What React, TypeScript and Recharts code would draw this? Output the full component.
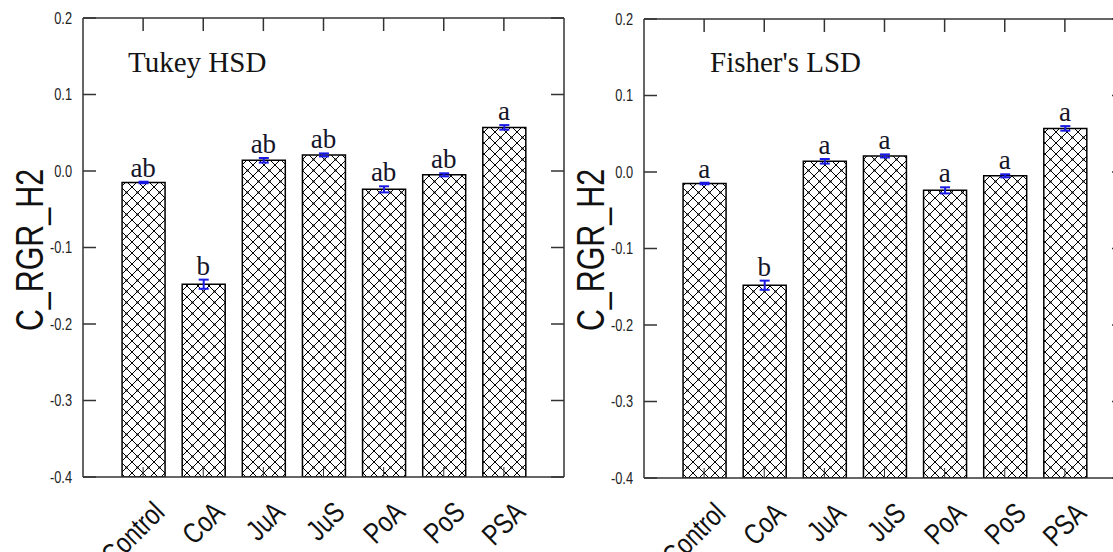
import { ComposedChart, Bar, Line, XAxis, YAxis, ErrorBar, LabelList } from 'recharts';

const categories = ['Control', 'CoA', 'JuA', 'JuS', 'PoA', 'PoS', 'PSA'];
const means = [-0.015, -0.148, 0.014, 0.021, -0.024, -0.005, 0.057];
const errors = [0.001, 0.006, 0.003, 0.002, 0.004, 0.002, 0.003];
const tukeyLetters = ['ab', 'b', 'ab', 'ab', 'ab', 'ab', 'a'];
const fisherLetters = ['a', 'b', 'a', 'a', 'a', 'a', 'a'];
const yTicks = [-0.4, -0.3, -0.2, -0.1, 0, 0.1, 0.2];
const positions = categories.map((_, i) => i + 1);
const Y_MIN = -0.4;
const Y_MAX = 0.2;

// narrow look: Arial-like face squeezed along the baseline
const SANS = "'Liberation Sans', Arial, sans-serif";
const SQUEEZE = 'scale(0.8,1)';
const SERIF = "'Liberation Serif', 'Times New Roman', serif";

const buildRows = (letters: string[]) =>
  categories.map((name, i) => ({
    pos: positions[i],
    name,
    mean: means[i],
    err: errors[i],
    top: means[i] + errors[i],
    letter: letters[i],
  }));

const XTick = (props: any) => {
  const { x, y, payload } = props;
  const label = categories[payload.value - 1];
  return (
    <text
      transform={`translate(${x + 23},${y + 37}) rotate(-45) ${SQUEEZE}`}
      textAnchor="end"
      fontFamily={SANS}
      fontSize={29}
      fill="#111"
    >
      {label}
    </text>
  );
};

const YTick = (props: any) => {
  const { x, y, payload } = props;
  return (
    <text
      transform={`translate(${x},${y}) ${SQUEEZE}`}
      textAnchor="end"
      dominantBaseline="central"
      fontFamily={SANS}
      fontSize={16}
      fill="#222"
    >
      {payload.value.toFixed(1)}
    </text>
  );
};

const renderLetter = (p: any) => (
  <text x={p.x} y={p.y - 5} textAnchor="middle" fontFamily={SERIF} fontSize={27} fill="#141428">
    {p.value}
  </text>
);

type PanelProps = {
  title: string;
  titleX: number;
  letters: string[];
  left: number;
  topH: number;
  bottomH: number;
  pid: string;
};

const Panel = ({ title, titleX, letters, left, topH, bottomH, pid }: PanelProps) => {
  const rows = buildRows(letters);
  const axisStroke = { stroke: '#333', strokeWidth: 1.5 };
  return (
    <div style={{ position: 'absolute', left, top: 0 }}>
      <ComposedChart width={574} height={552} data={rows} margin={{ top: 0, right: 0, bottom: 0, left: 0 }}>
        <defs>
          <pattern id={pid} width={11} height={11} patternUnits="userSpaceOnUse">
            <rect width={11} height={11} fill="#fff" />
            <path d="M0,0 L11,11 M11,0 L0,11" stroke="#000" strokeWidth={1} />
            <circle cx={5.5} cy={5.5} r={1.1} fill="#000" />
            <circle cx={0} cy={0} r={1.1} fill="#000" />
            <circle cx={11} cy={0} r={1.1} fill="#000" />
            <circle cx={0} cy={11} r={1.1} fill="#000" />
            <circle cx={11} cy={11} r={1.1} fill="#000" />
          </pattern>
        </defs>
        <XAxis
          xAxisId="bottom"
          dataKey="pos"
          type="number"
          domain={[0, 8]}
          ticks={positions}
          height={bottomH}
          axisLine={axisStroke}
          tickLine={{ stroke: '#333' }}
          tickSize={-10}
          tickMargin={10}
          tick={<XTick />}
          interval={0}
        />
        <XAxis
          xAxisId="top"
          orientation="top"
          dataKey="pos"
          type="number"
          domain={[0, 8]}
          ticks={positions}
          height={topH}
          axisLine={axisStroke}
          tickLine={{ stroke: '#333', strokeWidth: 1.5 }}
          tickSize={-13}
          tickFormatter={() => ''}
          interval={0}
        />
        <YAxis
          yAxisId="left"
          type="number"
          domain={[Y_MIN, Y_MAX]}
          ticks={yTicks}
          width={83}
          axisLine={axisStroke}
          tickLine={{ stroke: '#333', strokeWidth: 1.5 }}
          tickSize={-13}
          tickMargin={24}
          tick={<YTick />}
          interval={0}
          allowDataOverflow
        />
        <YAxis
          yAxisId="right"
          orientation="right"
          type="number"
          domain={[Y_MIN, Y_MAX]}
          ticks={yTicks}
          width={10}
          axisLine={axisStroke}
          tickLine={{ stroke: '#333', strokeWidth: 1.5 }}
          tickSize={-13}
          tickFormatter={() => ''}
          interval={0}
          allowDataOverflow
        />
        <Bar
          xAxisId="bottom"
          yAxisId="left"
          dataKey={(d: any) => [Y_MIN, d.mean]}
          barSize={43}
          fill={`url(#${pid})`}
          stroke="#000"
          strokeWidth={1.5}
          isAnimationActive={false}
        >
          <ErrorBar dataKey="err" direction="y" width={5} stroke="#1a1ae6" strokeWidth={2} />
        </Bar>
        <Line
          xAxisId="top"
          yAxisId="right"
          dataKey="top"
          stroke="none"
          dot={false}
          activeDot={false}
          isAnimationActive={false}
        >
          <LabelList dataKey="letter" content={renderLetter} />
        </Line>
        <text
          transform={`translate(43,250) rotate(-90) ${SQUEEZE}`}
          textAnchor="middle"
          fontFamily={SANS}
          fontSize={38}
          fill="#111"
        >
          C_RGR_H2
        </text>
        <text x={titleX} y={72} fontFamily={SERIF} fontSize={29} fill="#141414">
          {title}
        </text>
      </ComposedChart>
    </div>
  );
};

export default function App() {
  return (
    <div
      style={{
        position: 'absolute',
        left: 0,
        top: 0,
        width: 1113,
        height: 552,
        overflow: 'hidden',
        background: '#fff',
      }}
    >
      <Panel title="Tukey HSD" titleX={128} letters={tukeyLetters} left={0} topH={18} bottomH={75} pid="hatchA" />
      <Panel title="Fisher's LSD" titleX={149} letters={fisherLetters} left={561} topH={19} bottomH={74} pid="hatchB" />
    </div>
  );
}
